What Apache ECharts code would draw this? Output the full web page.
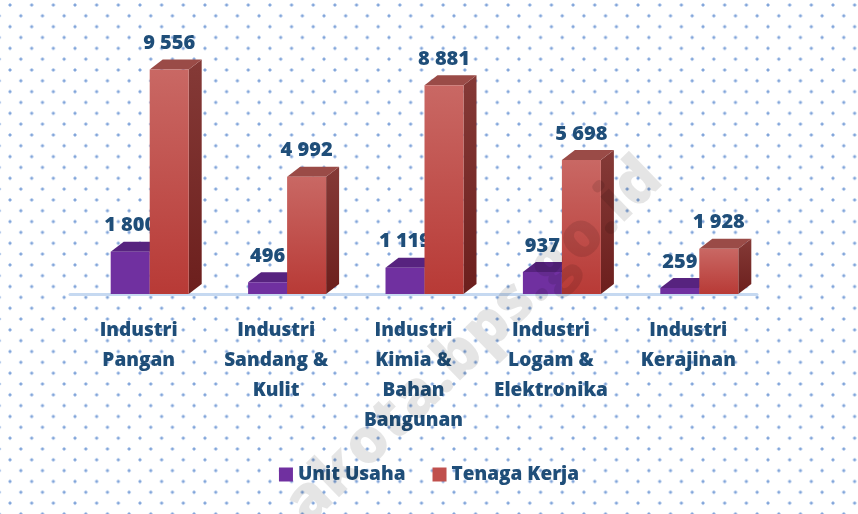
<!DOCTYPE html>
<html>
<head>
<meta charset="utf-8">
<script src="https://cdn.jsdelivr.net/npm/echarts@6/dist/echarts.min.js"></script>
<style>
  html, body { margin: 0; padding: 0; background: #fff; }
  #chart {
    width: 858px;
    height: 514px;
    background-color: #fff;
    background-image:
      radial-gradient(circle, #6f95d0 0, #8fb0e0 1.2px, rgba(255,255,255,0) 2px),
      radial-gradient(circle, #6f95d0 0, #8fb0e0 1.2px, rgba(255,255,255,0) 2px);
    background-size: 21.67px 21.67px, 21.67px 21.67px;
    background-position: -0.8px -5.8px, 10px 5px;
  }
</style>
</head>
<body>
<div id="chart"></div>
<script>
const categories = [
  "Industri\nPangan",
  "Industri\nSandang &\nKulit",
  "Industri\nKimia &\nBahan\nBangunan",
  "Industri\nLogam &\nElektronika",
  "Industri\nKerajinan"
];
const unitUsaha = [1800, 496, 1119, 937, 259];
const tenagaKerja = [9556, 4992, 8881, 5698, 1928];

const labelColor = "#1f4e79";
const fontFamily = "'Open Sans', sans-serif";

// colours for the 3d faces: front, top, side
const faces = [
  {
    front: "#7030a0",
    top: "#57237f",
    side: "#4e1e72"
  },
  {
    front: new echarts.graphic.LinearGradient(0, 0, 0, 1, [
      { offset: 0, color: "#c96864" },
      { offset: 1, color: "#b83a36" }
    ]),
    top: "#9a4b47",
    side: new echarts.graphic.LinearGradient(0, 0, 0, 1, [
      { offset: 0, color: "#853a37" },
      { offset: 1, color: "#6c1f1d" }
    ])
  }
];

function fmt(v) {
  return String(v).replace(/\B(?=(\d{3})+(?!\d))/g, " ");
}

function bar3d(s) {
  return function (params, api) {
    const i = api.value(0);
    const v = api.value(1);
    const base = api.coord([i, 0]);
    const top = api.coord([i, v]);
    const w = 39, dx = 13, dy = 10;
    const x0 = base[0] + 11 - w + s * w;
    const ty = top[1], by = base[1];
    const f = faces[s];
    return {
      type: "group",
      children: [
        {
          type: "polygon",
          shape: { points: [[x0 + w, ty], [x0 + w + dx, ty - dy], [x0 + w + dx, by - dy], [x0 + w, by]] },
          style: { fill: f.side }
        },
        {
          type: "polygon",
          shape: { points: [[x0, ty], [x0 + dx, ty - dy], [x0 + w + dx, ty - dy], [x0 + w, ty]] },
          style: { fill: f.top }
        },
        {
          type: "rect",
          shape: { x: x0, y: ty, width: w, height: by - ty },
          style: { fill: f.front }
        },
        {
          type: "text",
          x: x0 + w / 2,
          y: ty - 26,
          style: {
            text: fmt(v),
            fill: labelColor,
            font: "800 20px " + fontFamily,
            align: "center",
            verticalAlign: "middle"
          }
        }
      ]
    };
  };
}

const chart = echarts.init(document.getElementById("chart"));
chart.setOption({
  animation: false,
  grid: { left: 70, right: 101, top: 59, bottom: 220 },
  legend: {
    bottom: 25,
    left: "center",
    itemWidth: 14,
    itemHeight: 14,
    itemGap: 27,
    textStyle: { color: labelColor, fontSize: 19, fontWeight: 800, fontFamily: fontFamily },
    data: [
      { name: "Unit Usaha", icon: "rect" },
      { name: "Tenaga Kerja", icon: "rect" }
    ]
  },
  xAxis: {
    type: "category",
    data: categories,
    offset: 7,
    axisLine: { lineStyle: { color: "#c6d9f1", width: 3 } },
    axisTick: { show: false },
    axisLabel: {
      interval: 0,
      margin: 15,
      color: labelColor,
      fontSize: 19,
      fontWeight: 800,
      fontFamily: fontFamily,
      lineHeight: 30
    }
  },
  yAxis: { type: "value", min: 0, max: 10000, show: false },
  series: [
    {
      name: "Unit Usaha",
      type: "custom",
      itemStyle: { color: "#7030a0" },
      renderItem: bar3d(0),
      data: unitUsaha.map((v, i) => [i, v])
    },
    {
      name: "Tenaga Kerja",
      type: "custom",
      itemStyle: { color: "#c0504d" },
      renderItem: bar3d(1),
      data: tenagaKerja.map((v, i) => [i, v])
    }
  ],
  graphic: [
    {
      type: "text",
      z: 100,
      x: 474,
      y: 342,
      rotation: 44 * Math.PI / 180,
      silent: true,
      style: {
        text: "akota.bps.go.id",
        fill: "rgba(0,0,0,0.10)",
        font: "800 63px " + fontFamily,
        align: "center",
        verticalAlign: "middle"
      }
    }
  ]
});
</script>
</body>
</html>
